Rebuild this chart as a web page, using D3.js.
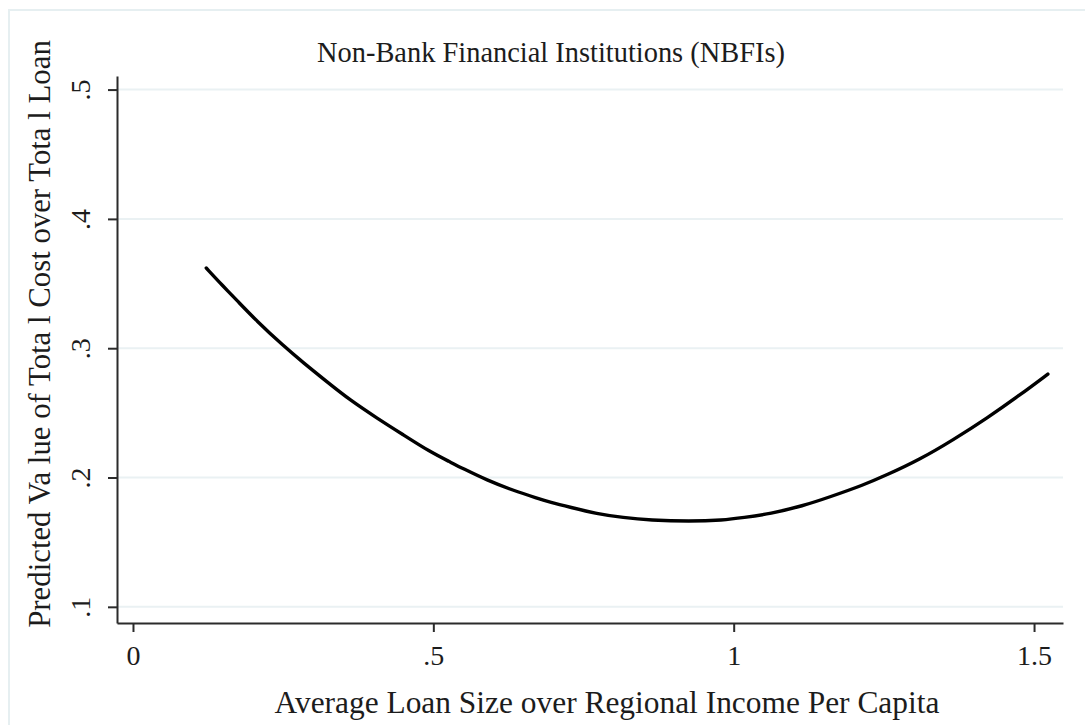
<!DOCTYPE html>
<html>
<head>
<meta charset="utf-8">
<script src="https://cdn.jsdelivr.net/npm/d3@7"></script>
<style>
  html, body { margin: 0; padding: 0; background: #ffffff; }
  svg { display: block; }
  text { font-family: "Liberation Serif", "DejaVu Serif", serif; fill: #1c1c1c; }
</style>
</head>
<body>
<svg id="chart" width="1085" height="725"></svg>
<script>
// Predicted cost ratio against relative loan size (quadratic fit)
const loanSize = [0.122, 0.150, 0.173, 0.206, 0.250, 0.283, 0.323, 0.361, 0.406, 0.450,
                  0.494, 0.528, 0.549, 0.589, 0.633, 0.673, 0.694, 0.728, 0.772, 0.816,
                  0.861, 0.927, 0.982, 1.016, 1.061, 1.115, 1.160, 1.215, 1.255, 1.310,
                  1.365, 1.422, 1.477, 1.523];
const predictedCost = [0.362, 0.348, 0.337, 0.321, 0.302, 0.289, 0.274, 0.260, 0.246, 0.233,
                       0.220, 0.212, 0.207, 0.198, 0.190, 0.184, 0.181, 0.177, 0.172, 0.169,
                       0.167, 0.166, 0.167, 0.169, 0.172, 0.178, 0.185, 0.194, 0.202, 0.214,
                       0.229, 0.246, 0.264, 0.280];

const xTicks = [0, 0.5, 1, 1.5];
const xTickLabels = ["0", ".5", "1", "1.5"];
const yTicks = [0.1, 0.2, 0.3, 0.4, 0.5];
const yTickLabels = [".1", ".2", ".3", ".4", ".5"];

const titleText = "Non-Bank Financial Institutions (NBFIs)";
const xTitle = "Average Loan Size over Regional Income Per Capita";
const yTitle = "Predicted Va lue of Tota l Cost over Tota l Loan";

const svg = d3.select("#chart");
const W = 1085, H = 725;
const plot = { left: 117, right: 1063, top: 76, bottom: 623 };

// Outer graph frame
svg.append("rect")
  .attr("x", 9).attr("y", 10)
  .attr("width", W + 20).attr("height", H + 20)
  .attr("fill", "none")
  .attr("stroke", "#e6eff1")
  .attr("stroke-width", 2);

const x = d3.scaleLinear().domain([-0.0266, 1.5482]).range([plot.left, plot.right]);
const y = d3.scaleLinear().domain([0.0875, 0.5105]).range([plot.bottom, plot.top]);

// Horizontal grid lines
svg.append("g")
  .selectAll("line")
  .data(yTicks)
  .join("line")
  .attr("x1", plot.left).attr("x2", plot.right)
  .attr("y1", d => y(d)).attr("y2", d => y(d))
  .attr("stroke", "#eaf1f3")
  .attr("stroke-width", 2);

// Y axis
const yAxis = svg.append("g")
  .attr("transform", `translate(${plot.left},0)`)
  .call(d3.axisLeft(y).tickValues(yTicks)
    .tickFormat((d, i) => yTickLabels[i])
    .tickSize(9).tickSizeOuter(0).tickPadding(0));
yAxis.select(".domain").attr("stroke", "#2b2b2b").attr("stroke-width", 2);
yAxis.selectAll(".tick line").attr("stroke", "#2b2b2b").attr("stroke-width", 2);
yAxis.selectAll(".tick text")
  .attr("x", null).attr("dy", null)
  .attr("text-anchor", "middle")
  .attr("transform", "translate(-27,0) rotate(-90)")
  .attr("font-size", 28)
  .attr("font-family", "Liberation Serif, serif")
  .attr("fill", "#1c1c1c");

// X axis
const xAxis = svg.append("g")
  .attr("transform", `translate(0,${plot.bottom})`)
  .call(d3.axisBottom(x).tickValues(xTicks)
    .tickFormat((d, i) => xTickLabels[i])
    .tickSize(9).tickSizeOuter(0).tickPadding(0));
xAxis.select(".domain").attr("stroke", "#2b2b2b").attr("stroke-width", 2);
xAxis.selectAll(".tick line").attr("stroke", "#2b2b2b").attr("stroke-width", 2);
xAxis.selectAll(".tick text")
  .attr("y", 42).attr("dy", null)
  .attr("font-size", 28)
  .attr("font-family", "Liberation Serif, serif")
  .attr("fill", "#1c1c1c");

// Fit a text element's font size to a target width
function fitWidth(sel, target, start) {
  sel.attr("font-size", start);
  const w = sel.node().getComputedTextLength();
  sel.attr("font-size", start * target / w);
}

// Titles
const t = svg.append("text")
  .attr("x", 551).attr("y", 62)
  .attr("text-anchor", "middle")
  .text(titleText);
fitWidth(t, 468, 26);

const xt = svg.append("text")
  .attr("x", 607).attr("y", 713)
  .attr("text-anchor", "middle")
  .text(xTitle);
fitWidth(xt, 665, 26);

const yt = svg.append("text")
  .attr("text-anchor", "middle")
  .attr("transform", "translate(50,334) rotate(-90)")
  .text(yTitle);
fitWidth(yt, 588, 26);

// Fitted curve
const line = d3.line()
  .x((d, i) => x(loanSize[i]))
  .y(d => y(d))
  .curve(d3.curveBasis);

svg.append("path")
  .datum(predictedCost)
  .attr("d", line)
  .attr("fill", "none")
  .attr("stroke", "#000000")
  .attr("stroke-width", 3.4)
  .attr("stroke-linejoin", "round")
  .attr("stroke-linecap", "round");
</script>
</body>
</html>
